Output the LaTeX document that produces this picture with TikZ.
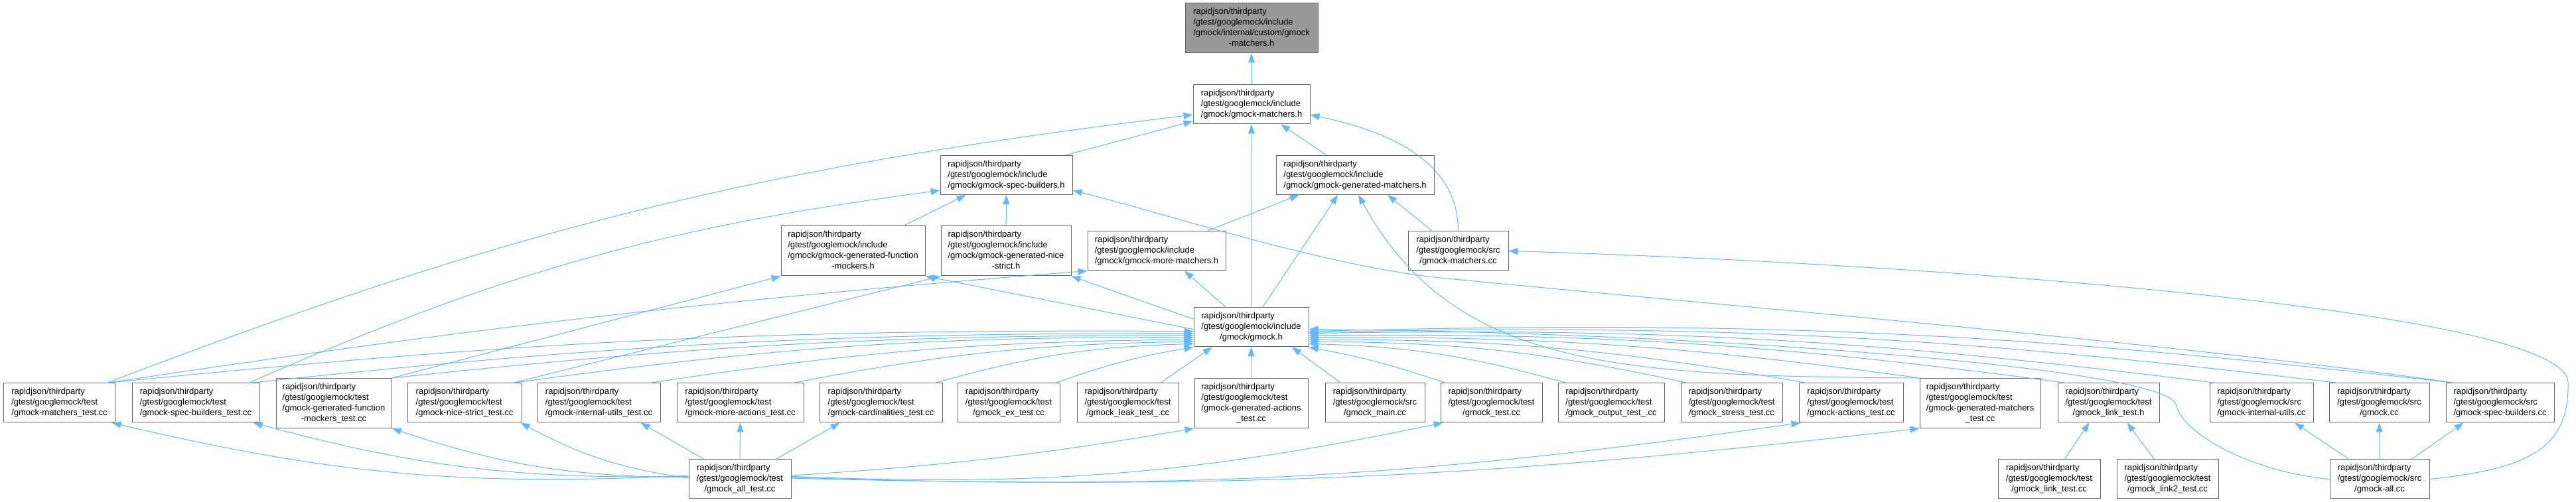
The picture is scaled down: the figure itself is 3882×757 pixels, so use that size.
\documentclass[tikz,border=0pt]{standalone}
\usepackage{fontspec}
\setmainfont{Liberation Sans}
\usetikzlibrary{arrows.meta}
\definecolor{edgeblue}{HTML}{63B8FF}
\definecolor{boxline}{HTML}{666666}
\definecolor{rootfill}{HTML}{999999}
\newcommand{\gpath}[2]{\begin{tabular}{@{}l@{}}rapidjson/thirdparty\\#1\\\multicolumn{1}{@{}c@{}}{#2}\end{tabular}}
\newcommand{\gpathx}[3]{\begin{tabular}{@{}l@{}}rapidjson/thirdparty\\#1\\#2\\\multicolumn{1}{@{}c@{}}{#3}\end{tabular}}
\tikzset{
  fbx/.style={draw=boxline,fill=white,line width=0.1pt,inner xsep=0.6pt,inner ysep=0.2pt,minimum width=#1,minimum height=5.9pt,font=\fontsize{1.3}{1.6}\selectfont},
  tall/.style={minimum height=7.5pt},
  inc/.style={-{Triangle[length=1.4pt,width=1pt]},edgeblue,line width=0.1pt},
}

\begin{document}
\begin{tikzpicture}[x=0.1pt,y=0.1pt]
\useasboundingbox (0,0) rectangle (3882,757);
% headers
\node[fbx=20pt,tall,fill=rootfill] (custm) at (1886,714.5) {\gpathx{/gtest/googlemock/include}{/gmock/internal/custom/gmock}{-matchers.h}};
\node[fbx=17.6pt] (mtch) at (1886,599.5) {\gpath{/gtest/googlemock/include}{/gmock/gmock-matchers.h}};
\node[fbx=19.9pt] (spec) at (1516.5,493) {\gpath{/gtest/googlemock/include}{/gmock/gmock-spec-builders.h}};
\node[fbx=23.8pt] (genm) at (2042,493) {\gpath{/gtest/googlemock/include}{/gmock/gmock-generated-matchers.h}};
\node[fbx=21.7pt,tall] (fmock) at (1285.5,378.5) {\gpathx{/gtest/googlemock/include}{/gmock/gmock-generated-function}{-mockers.h}};
\node[fbx=19.6pt,tall] (nice) at (1516,378.5) {\gpathx{/gtest/googlemock/include}{/gmock/gmock-generated-nice}{-strict.h}};
\node[fbx=20.8pt] (morem) at (1743,378.5) {\gpath{/gtest/googlemock/include}{/gmock/gmock-more-matchers.h}};
\node[fbx=15.1pt] (mtchcc) at (2197.5,378.5) {\gpath{/gtest/googlemock/src}{/gmock-matchers.cc}};
\node[fbx=17.3pt] (gmock) at (1885.5,263.5) {\gpath{/gtest/googlemock/include}{/gmock/gmock.h}};
% tests and sources
\node[fbx=16.9pt] (tmtch) at (89.5,149.5) {\gpath{/gtest/googlemock/test}{/gmock-matchers\_test.cc}};
\node[fbx=19.2pt] (tspec) at (295,149.5) {\gpath{/gtest/googlemock/test}{/gmock-spec-builders\_test.cc}};
\node[fbx=17.4pt,tall] (tfmock) at (503,149) {\gpathx{/gtest/googlemock/test}{/gmock-generated-function}{-mockers\_test.cc}};
\node[fbx=17.2pt] (tnice) at (700,149.5) {\gpath{/gtest/googlemock/test}{/gmock-nice-strict\_test.cc}};
\node[fbx=18.5pt] (tiutil) at (902.5,149.5) {\gpath{/gtest/googlemock/test}{/gmock-internal-utils\_test.cc}};
\node[fbx=19.1pt] (tmact) at (1115.5,149.5) {\gpath{/gtest/googlemock/test}{/gmock-more-actions\_test.cc}};
\node[fbx=18.5pt] (tcard) at (1327.5,149.5) {\gpath{/gtest/googlemock/test}{/gmock-cardinalities\_test.cc}};
\node[fbx=15.4pt] (tex) at (1520,149.5) {\gpath{/gtest/googlemock/test}{/gmock\_ex\_test.cc}};
\node[fbx=15.3pt] (tleak) at (1699.5,149.5) {\gpath{/gtest/googlemock/test}{/gmock\_leak\_test\_.cc}};
\node[fbx=17.1pt,tall] (tgact) at (1885.5,149) {\gpathx{/gtest/googlemock/test}{/gmock-generated-actions}{\_test.cc}};
\node[fbx=15pt] (smain) at (2072,149.5) {\gpath{/gtest/googlemock/src}{/gmock\_main.cc}};
\node[fbx=15.3pt] (tgm) at (2247.5,149.5) {\gpath{/gtest/googlemock/test}{/gmock\_test.cc}};
\node[fbx=16pt] (tout) at (2428,149.5) {\gpath{/gtest/googlemock/test}{/gmock\_output\_test\_.cc}};
\node[fbx=15.3pt] (tstress) at (2609.5,149.5) {\gpath{/gtest/googlemock/test}{/gmock\_stress\_test.cc}};
\node[fbx=15.7pt] (tact) at (2789.5,149.5) {\gpath{/gtest/googlemock/test}{/gmock-actions\_test.cc}};
\node[fbx=18.2pt,tall] (tgenm) at (2984,149) {\gpathx{/gtest/googlemock/test}{/gmock-generated-matchers}{\_test.cc}};
\node[fbx=15.3pt] (tlinkh) at (3177.5,149.5) {\gpath{/gtest/googlemock/test}{/gmock\_link\_test.h}};
\node[fbx=15.6pt] (siutil) at (3408,149.5) {\gpath{/gtest/googlemock/src}{/gmock-internal-utils.cc}};
\node[fbx=15.1pt] (sgmock) at (3585.5,149.5) {\gpath{/gtest/googlemock/src}{/gmock.cc}};
\node[fbx=16.3pt] (sspec) at (3767.5,149.5) {\gpath{/gtest/googlemock/src}{/gmock-spec-builders.cc}};
\node[fbx=15.4pt] (tall) at (1115,34.5) {\gpath{/gtest/googlemock/test}{/gmock\_all\_test.cc}};
\node[fbx=15.4pt] (tlink) at (3088,34.5) {\gpath{/gtest/googlemock/test}{/gmock\_link\_test.cc}};
\node[fbx=15.3pt] (tlink2) at (3266.5,34.5) {\gpath{/gtest/googlemock/test}{/gmock\_link2\_test.cc}};
\node[fbx=15pt] (sall) at (3586,34.5) {\gpath{/gtest/googlemock/src}{/gmock-all.cc}};

\draw[inc] (mtch) -- (custm);
\draw[inc] ([xshift=-1.1pt]spec.north east) -- (mtch.196);
\draw[inc] ([xshift=-4.3pt]genm.north) -- ([xshift=4.4pt]mtch.south);
\draw[inc] (gmock.north) -- (mtch.south);
\draw[inc] (mtchcc.north) to[out=90,in=-12] (mtch.-10);
\draw[inc] ([xshift=-1.4pt]tmtch.north east) to[bend left=7] (mtch.190);
\draw[inc] ([xshift=-3.3pt]fmock.north east) -- ([xshift=-6.1pt]spec.south);
\draw[inc] (nice) -- (spec);
\draw[inc] ([xshift=-1.7pt]tspec.north east) to[bend left=8] (spec.193);
\draw[inc] ([xshift=1.4pt]sspec.north west) .. controls (3300,237) and (2700,287) .. (2180,337) .. controls (2001,354) and (1756,435) .. (spec.-13);
\draw[inc] ([xshift=-2.9pt]morem.north east) -- ([xshift=3.5pt]genm.south west);
\draw[inc] ([xshift=1.7pt]gmock.north) -- ([xshift=-2.6pt]genm.south);
\draw[inc] ([xshift=-3.9pt]mtchcc.north) -- ([xshift=4.9pt]genm.south);
\draw[inc] (tgenm.north west) .. controls (2443,190) and (2191,200) .. ([xshift=0.5pt]genm.south);
\draw[inc] (gmock.182) -- (fmock.south east);
\draw[inc] (gmock.172) -- (nice.south east);
\draw[inc] ([xshift=-3.8pt]gmock.north) -- ([xshift=4.2pt]morem.south);
\draw[inc] (tfmock.north east) -- (fmock.south west);
\draw[inc] ([xshift=-1.4pt]tnice.north east) -- (nice.south west);
\draw[inc] ([xshift=-1.4pt]tmtch.north east) to[bend left=2] (morem.south west);
\draw[inc] (sall.east) .. controls (3810,50) and (3872,80) .. (3870,180) .. controls (3870,290) and (2900,360) .. (mtchcc.east);
% into gmock.h
\draw[inc] ([xshift=-1.4pt]tmtch.north east) to[bend left=3] (gmock.184);
\draw[inc] ([xshift=-1.6pt]tspec.north east) to[bend left=3] (gmock.186);
\draw[inc] (tfmock.north east) to[bend left=3] (gmock.188);
\draw[inc] ([xshift=-1.4pt]tnice.north east) to[bend left=4] (gmock.190);
\draw[inc] ([xshift=-1.7pt]tiutil.north east) to[bend left=4] (gmock.192);
\draw[inc] ([xshift=-1.7pt]tmact.north east) to[bend left=5] (gmock.194);
\draw[inc] ([xshift=-1.2pt]tcard.north east) to[bend left=7] (gmock.196);
\draw[inc] ([xshift=-0.7pt]tex.north east) to[bend left=5] (gmock.south west);
\draw[inc] ([xshift=-2.8pt]tleak.north east) -- (gmock.207);
\draw[inc] (tgact.north) -- (gmock.south);
\draw[inc] ([xshift=2.4pt]smain.north west) -- (gmock.-26);
\draw[inc] ([xshift=0.8pt]tgm.north west) to[bend right=4] (gmock.south east);
\draw[inc] ([xshift=1.3pt]tout.north west) to[bend right=7] (gmock.-16);
\draw[inc] ([xshift=1.1pt]tstress.north west) to[bend right=6] (gmock.-14);
\draw[inc] ([xshift=1.2pt]tact.north west) to[bend right=5] (gmock.-12);
\draw[inc] (tgenm.north west) to[bend right=4] (gmock.-10);
\draw[inc] ([xshift=1.4pt]tlinkh.north west) to[bend right=4] (gmock.-8);
\draw[inc] ([xshift=1pt]siutil.north west) to[bend right=4] (gmock.-6);
\draw[inc] ([xshift=1.4pt]sgmock.north west) to[bend right=4] (gmock.-5);
\draw[inc] ([xshift=1.4pt]sspec.north west) to[bend right=4] (gmock.-4);
\draw[inc] (sall.west) .. controls (3400,44) and (3290,100) .. (3279,147) .. controls (3268,200) and (2600,255) .. (gmock.-2);
% gmock_all_test
\draw[inc] (tall.176) to[bend left=8] ([xshift=-0.6pt]tmtch.south east);
\draw[inc] (tall.177) to[bend left=8] ([xshift=-1pt]tspec.south east);
\draw[inc] (tall.178) to[bend left=9] (tfmock.south east);
\draw[inc] (tall.179) to[bend left=10] ([xshift=-0.2pt]tnice.south east);
\draw[inc] ([xshift=-5.4pt]tall.north) -- ([xshift=6.3pt]tiutil.south);
\draw[inc] (tall.north) -- (tmact.south);
\draw[inc] ([xshift=5.4pt]tall.north) -- ([xshift=-6.2pt]tcard.south);
\draw[inc] (tall.4) to[bend right=3] (tgact.south west);
\draw[inc] (tall.3) to[bend right=7] ([xshift=0.4pt]tgm.south west);
\draw[inc] (tall.2) to[bend right=5] ([xshift=0.3pt]tact.south west);
\draw[inc] (tall.1) to[bend right=4] (tgenm.south west);
% link tests and gmock-all.cc
\draw[inc] ([xshift=2.3pt]tlink.north) -- ([xshift=-2.9pt]tlinkh.south);
\draw[inc] ([xshift=-2pt]tlink2.north) -- ([xshift=2.8pt]tlinkh.south);
\draw[inc] ([xshift=-4.6pt]sall.north) -- ([xshift=5pt]siutil.south);
\draw[inc] (sall.north) -- (sgmock.south);
\draw[inc] ([xshift=4.8pt]sall.north) -- ([xshift=-5.5pt]sspec.south);
\end{tikzpicture}
\end{document}
